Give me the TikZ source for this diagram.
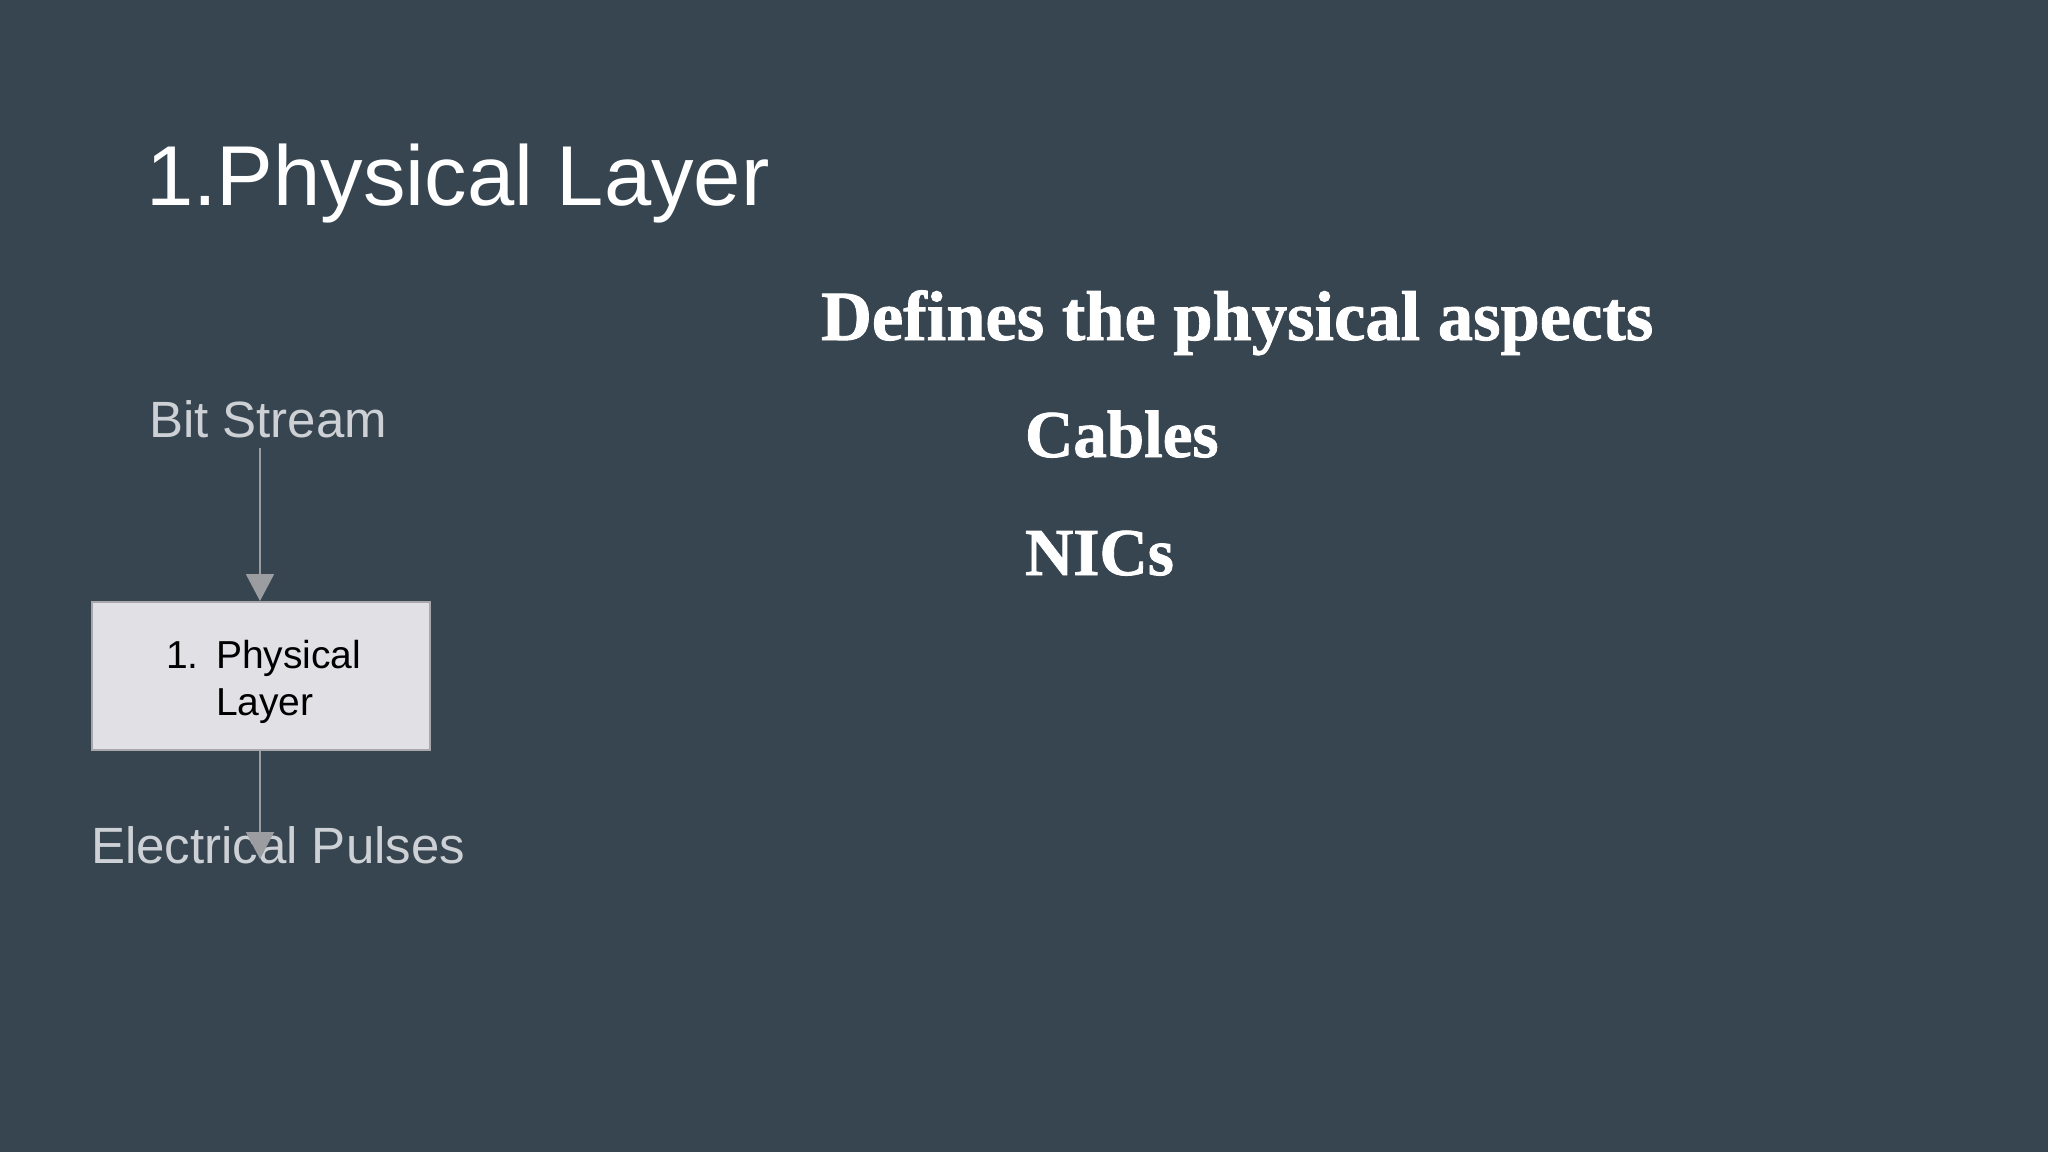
\documentclass[tikz,border=0pt]{standalone}
\usepackage{fontspec}
\setmainfont{Liberation Sans}
\newfontfamily\fatface[FakeBold=1.2]{Liberation Serif Bold}
\usetikzlibrary{arrows.meta}
\definecolor{bg}{RGB}{55,69,80}
\definecolor{lbl}{RGB}{205,209,213}
\definecolor{arrgray}{RGB}{155,157,161}
\definecolor{boxfill}{RGB}{225,224,229}
\definecolor{boxline}{RGB}{168,168,172}
\tikzset{
  txt/.style={inner sep=0pt, outer sep=0pt, anchor=base west},
  title/.style={txt, text=white, font=\fontsize{85}{100}\selectfont},
  lbltxt/.style={txt, text=lbl, font=\fontsize{51}{60}\selectfont},
  boxtxt/.style={txt, text=black, font=\fontsize{39}{46}\selectfont},
  fat/.style={txt, text=white, font=\fatface\fontsize{70.5}{84}\selectfont},
  fatsmall/.style={txt, text=white, font=\fatface\fontsize{67}{80}\selectfont},
  layerbox/.style={draw=boxline, line width=2pt, fill=boxfill, minimum width=338pt, minimum height=148pt, inner sep=0pt},
  arr/.style={draw=arrgray, line width=2pt, -{Triangle[width=28pt,length=27pt]}, color=arrgray}
}
\begin{document}
\begin{tikzpicture}[x=1pt,y=-1pt]
\useasboundingbox (0,0) rectangle (2048,1152);
\fill[bg] (0,0) rectangle (2048,1152);
\node[title] (title) at (146,205) {1.Physical Layer};
\node[lbltxt] (bit) at (149,437) {Bit Stream};
\node[layerbox] (box) at (261,676) {};
\node[boxtxt] (num) at (166,668) {1.};
\node[boxtxt] (phys) at (216,668) {Physical};
\node[boxtxt] (layer) at (216,715) {Layer};
\node[lbltxt] (elec) at (91,863) {Electrical Pulses};
\coordinate (s1) at (260,448);
\coordinate (e1) at (260,859);
\draw[arr] (s1) -- (box.north -| s1);
\draw[arr] (box.south -| s1) -- (e1);
\node[fat] (def) at (821,340) {Defines the physical aspects};
\node[fatsmall] (cab) at (1025,457) {Cables};
\node[fatsmall] (nic) at (1025,575) {NICs};
\end{tikzpicture}
\end{document}
